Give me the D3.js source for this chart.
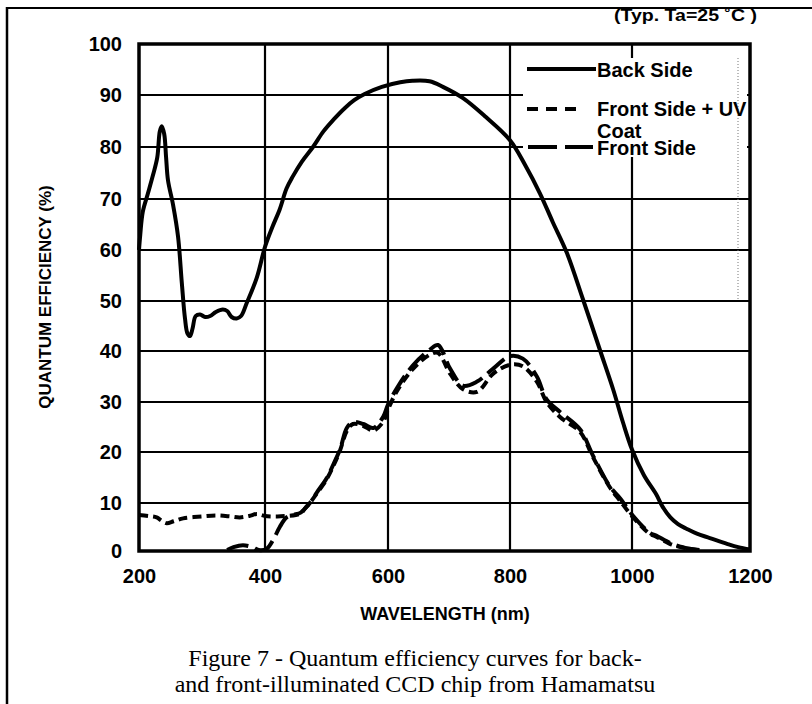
<!DOCTYPE html>
<html>
<head>
<meta charset="utf-8">
<script src="https://cdn.jsdelivr.net/npm/d3@7"></script>
<style>
  html, body { margin: 0; padding: 0; background: #fff; }
  svg { display: block; }
</style>
</head>
<body>
<svg id="chart" width="812" height="704"></svg>
<script>
// ---------------- DATA ----------------
const xTicks = [200, 400, 600, 800, 1000, 1200];
const yTicks = [0, 10, 20, 30, 40, 50, 60, 70, 80, 90, 100];

const seriesNames = ["Back Side", "Front Side + UV", "Front Side"];

// [wavelength nm, QE %]
const backSide = [
  [200,60],[202,63],[206,67.5],[214,71],[222,74.5],[229,78],[233,83],[236,84],[240,82.5],
  [243,78],[246,73.6],[254,68.9],[262,62.6],[268,53.5],[273,46.5],[277,43.5],[281,43],
  [285,44.5],[290,47],[297,47.3],[305,46.8],[313,47],[322,47.8],[333,48.3],[340,48],
  [347,46.8],[355,46.5],[362,47],[371,49.6],[387,54.6],[400,60.6],[412,64.5],[424,68],
  [435,72],[445,74.3],[460,77.2],[478,80],[495,83],[511,85.2],[530,87.5],[545,89],
  [562,90.2],[590,91.6],[620,92.5],[640,92.8],[668,92.7],[690,91.6],[723,89.4],[760,85.8],
  [800,81.3],[825,76.5],[849,71.1],[870,65.5],[893,59.5],[920,50.2],[948,40],[969,32.5],
  [985,26],[1000,20.5],[1020,15.5],[1041,11.7],[1052,9.2],[1065,7],[1078,5.6],[1093,4.6],
  [1110,3.6],[1132,2.7],[1161,1.5],[1180,0.8],[1200,0.3]
];

const frontSideUV = [
  [200,7.5],[215,7.3],[228,7],[236,6.3],[244,5.8],[255,6.2],[270,6.8],[300,7.2],[323,7.4],
  [345,7.2],[360,7],[375,7.3],[387,7.7],[400,7.3],[420,7.2],[435,7.3],[450,7.5],[458,7.8],
  [466,9],[473,10],[485,12],[500,14.6],[512,17.5],[522,20.3],[533,24.2],[543,25.6],
  [560,25.2],[576,24.3],[592,26],[600,28.5],[615,32.2],[641,36.5],[669,39.3],[682,39.6],
  [702,35.5],[723,32.5],[746,32],[772,35.5],[800,37.3],[821,37],[844,34],[860,30],
  [882,27],[915,24],[936,19],[964,13],[980,10.5],[1002,7],[1031,3.5],[1041,3],
  [1064,1.5],[1086,0.7],[1115,0.2]
];

const frontSide = [
  [340,0.2],[350,0.8],[365,1.2],[380,0.8],[390,0.2],[403,0.5],[414,2.5],[424,5],[435,7],
  [445,7.5],[458,8],[466,9],[473,10],[485,12.2],[500,14.8],[512,17.8],[522,20.5],
  [533,24.8],[543,26],[560,25.6],[576,24.8],[592,27],[600,29.5],[615,32.8],[641,37.2],
  [669,40.3],[682,41.2],[702,36.5],[723,33.2],[746,34],[772,36.5],[800,39],[821,38.5],
  [844,35],[860,30.5],[882,28],[915,24.5],[936,19.3],[964,13.2],[980,11],[1002,7.3],
  [1031,3.7],[1041,3.2],[1064,1.7],[1086,0.8],[1110,0.2]
];

const axisTitleX = "WAVELENGTH (nm)";
const axisTitleY = "QUANTUM EFFICIENCY (%)";
const noteText = "(Typ. Ta=25 \u02DAC )";
const captionLines = [
  "Figure 7 - Quantum efficiency curves for back-",
  "and front-illuminated CCD chip from Hamamatsu"
];

// ---------------- LAYOUT ----------------
const svg = d3.select("#chart");
svg.append("rect").attr("width", 812).attr("height", 704).attr("fill", "#fff");

// scanned figure: slightly uneven grid spacing -> polylinear scales
const x = d3.scaleLinear().domain(xTicks).range([139, 265, 388, 510, 632, 750]);
const y = d3.scaleLinear().domain(yTicks).range([551, 503, 452, 402, 351, 301, 250, 199, 147, 95, 44]);

const ink = "#000";
const sans = "'Liberation Sans', Arial, Helvetica, sans-serif";
const serif = "'Liberation Serif', 'Times New Roman', serif";

// outer figure frame (top + left)
svg.append("line").attr("x1", 6).attr("x2", 812).attr("y1", 8).attr("y2", 8)
  .attr("stroke", ink).attr("stroke-width", 2);
svg.append("line").attr("x1", 7).attr("x2", 7).attr("y1", 7).attr("y2", 704)
  .attr("stroke", ink).attr("stroke-width", 2.5);

const g = svg.append("g");

// grid lines
g.selectAll(".hgrid").data(yTicks.filter(d => d > 0 && d < 100)).join("line")
  .attr("x1", x(200)).attr("x2", x(1200))
  .attr("y1", d => y(d)).attr("y2", d => y(d))
  .attr("stroke", ink).attr("stroke-width", 2.2);
g.selectAll(".vgrid").data(xTicks.filter(d => d > 200 && d < 1200)).join("line")
  .attr("x1", d => x(d)).attr("x2", d => x(d))
  .attr("y1", y(0)).attr("y2", y(100))
  .attr("stroke", ink).attr("stroke-width", 2.2);

// legend background (covers grid)
const lg = { x0: 523, x1: 747, y0: 58, y1: 157 };
g.append("rect").attr("x", lg.x0).attr("y", lg.y0)
  .attr("width", lg.x1 - lg.x0).attr("height", lg.y1 - lg.y0).attr("fill", "#fff");

// faint dotted scan artifact line
g.append("line").attr("x1", 738).attr("x2", 738).attr("y1", 58).attr("y2", 300)
  .attr("stroke", "#777").attr("stroke-width", 1).attr("stroke-dasharray", "1,2");

// curves
const line = d3.line().x(d => x(d[0])).y(d => y(d[1])).curve(d3.curveCatmullRom.alpha(0.5));

g.append("path").datum(frontSide).attr("d", line)
  .attr("fill", "none").attr("stroke", ink).attr("stroke-width", 4)
  .attr("stroke-dasharray", "22,7").attr("stroke-linecap", "butt");
g.append("path").datum(frontSideUV).attr("d", line)
  .attr("fill", "none").attr("stroke", ink).attr("stroke-width", 4)
  .attr("stroke-dasharray", "9,5").attr("stroke-linecap", "butt");
g.append("path").datum(backSide).attr("d", line)
  .attr("fill", "none").attr("stroke", ink).attr("stroke-width", 4)
  .attr("stroke-linejoin", "round");

// plot border
g.append("rect").attr("x", x(200)).attr("y", y(100))
  .attr("width", x(1200) - x(200)).attr("height", y(0) - y(100))
  .attr("fill", "none").attr("stroke", ink).attr("stroke-width", 3.5);

// axes (labels only)
const yAxis = d3.axisLeft(y).tickValues(yTicks).tickSize(0).tickPadding(17)
  .tickFormat(d3.format("d"));
const yAx = svg.append("g").attr("transform", `translate(${x(200)},0)`).call(yAxis);
yAx.select(".domain").remove();
yAx.selectAll("text").attr("font-family", sans).attr("font-size", 20)
  .attr("font-weight", "bold").attr("fill", ink);

const xAxis = d3.axisBottom(x).tickValues(xTicks).tickSize(0).tickPadding(18)
  .tickFormat(d3.format("d"));
const xAx = svg.append("g").attr("transform", `translate(0,${y(0)})`).call(xAxis);
xAx.select(".domain").remove();
xAx.selectAll("text").attr("font-family", sans).attr("font-size", 20)
  .attr("font-weight", "bold").attr("fill", ink);

// axis titles
svg.append("text").attr("x", 445).attr("y", 620).attr("text-anchor", "middle")
  .attr("font-family", sans).attr("font-size", 18).attr("font-weight", "bold")
  .attr("fill", ink).text(axisTitleX);
svg.append("text").attr("transform", "translate(51,297) rotate(-90)")
  .attr("text-anchor", "middle")
  .attr("font-family", sans).attr("font-size", 17).attr("font-weight", "bold")
  .attr("fill", ink).text(axisTitleY);

// note
svg.append("text").attr("x", 614).attr("y", 21)
  .attr("font-family", sans).attr("font-size", 16).attr("font-weight", "bold")
  .attr("textLength", 143).attr("lengthAdjust", "spacingAndGlyphs")
  .attr("fill", ink).text(noteText);

// legend
const leg = svg.append("g");
leg.append("line").attr("x1", 527).attr("x2", 596).attr("y1", 69).attr("y2", 69)
  .attr("stroke", ink).attr("stroke-width", 4);
leg.append("line").attr("x1", 527).attr("x2", 583).attr("y1", 109).attr("y2", 109)
  .attr("stroke", ink).attr("stroke-width", 4).attr("stroke-dasharray", "11,8");
leg.append("line").attr("x1", 528).attr("x2", 593).attr("y1", 147).attr("y2", 147)
  .attr("stroke", ink).attr("stroke-width", 4).attr("stroke-dasharray", "29,8");

const legText = (t, yy) => leg.append("text").attr("x", 597).attr("y", yy)
  .attr("font-family", sans).attr("font-size", 20).attr("font-weight", "bold")
  .attr("fill", ink).text(t);
legText(seriesNames[0], 77);
legText(seriesNames[1], 116);
legText("Coat", 138);
legText(seriesNames[2], 155);

// caption
svg.selectAll(".cap").data(captionLines).join("text")
  .attr("x", 415).attr("y", (d, i) => 666 + i * 26)
  .attr("text-anchor", "middle")
  .attr("font-family", serif).attr("font-size", 24).attr("fill", ink)
  .text(d => d);
</script>
</body>
</html>
